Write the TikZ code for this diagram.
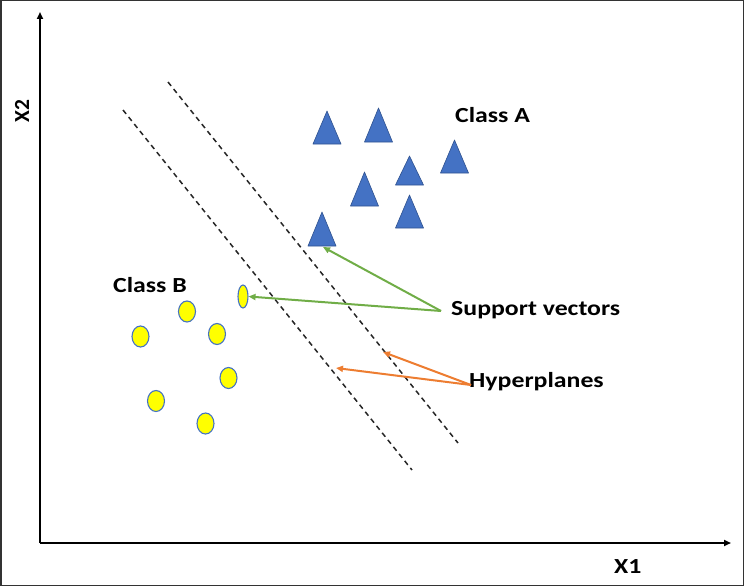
\documentclass[tikz,border=0pt]{standalone}
\usepackage{fontspec}
\setmainfont{Carlito}
\usetikzlibrary{arrows.meta,shapes.geometric}
\definecolor{triblue}{HTML}{4472C4}
\definecolor{triedge}{HTML}{2F528F}
\definecolor{ptyellow}{HTML}{FFFF00}
\definecolor{svgreen}{HTML}{70AD47}
\definecolor{hporange}{HTML}{ED7D31}
\definecolor{framegray}{HTML}{333333}
\newcommand{\wtxt}[1]{\scalebox{1.2}[1]{#1}}
\begin{document}
\begin{tikzpicture}[x=1pt,y=-1pt,
  lbl/.style={font=\fontsize{21.5}{25}\selectfont\bfseries, inner sep=0pt, anchor=base west},
  axis/.style={line width=2.2pt, -{Triangle[length=7pt,width=6pt]}},
  hyper/.style={line width=1.5pt, dash pattern=on 5pt off 4pt, black!85},
  tri/.style={fill=triblue, draw=triedge, line width=0.6pt, line join=round},
  pt/.style={ellipse, fill=ptyellow, draw=triblue, line width=1.1pt, inner sep=0pt, minimum width=17pt, minimum height=21pt},
  svarrow/.style={svgreen, line width=2pt, -{Triangle[length=7pt,width=6pt]}},
  hparrow/.style={hporange, line width=2pt, -{Triangle[length=7pt,width=6pt]}}]
\useasboundingbox (0,0) rectangle (744,586);
\draw[framegray, line width=1.5pt] (0.75,0.75) rectangle (743.25,585.25);
% axes
\coordinate (O) at (40,543);
\coordinate (ytip) at (40,12);
\coordinate (xtip) at (731,543);
\draw[axis] (O) -- (ytip);
\draw[axis] (O) -- (xtip);
\node[lbl, rotate=90] (x2) at (29,123) {X2};
\node[lbl] (x1) at (614,573) {\wtxt{X1}};
% hyperplanes
\coordinate (h1a) at (123,110);
\coordinate (h1b) at (412,470);
\coordinate (h2a) at (168,82);
\coordinate (h2b) at (458,443);
\draw[hyper] (h1a) -- (h1b);
\draw[hyper] (h2a) -- (h2b);
% triangles (class A)
\foreach \cx/\ty/\by in {327/111/144, 378.5/108/142, 454.5/140/173, 409.5/156/185, 364.5/172/206, 409.5/195/228, 322/212/246}{
  \draw[tri] (\cx-14,\by) -- (\cx,\ty) -- (\cx+14,\by) -- cycle;
}
\coordinate (svA) at (323,247);
% ellipses (class B)
\node[pt, minimum width=10pt, minimum height=23pt] (svB) at (243,296.5) {};
\node[pt] (b2) at (187,311.5) {};
\node[pt] (b3) at (140.5,336.5) {};
\node[pt] (b4) at (217,334) {};
\node[pt] (b5) at (228.5,378) {};
\node[pt] (b6) at (156,401) {};
\node[pt] (b7) at (205.5,423.5) {};
% labels
\node[lbl] (classA) at (455,122) {\wtxt{Class A}};
\node[lbl] (classB) at (113,292) {\wtxt{Class B}};
\node[lbl] (sv) at (451,315) {\wtxt{Support vectors}};
\node[lbl] (hp) at (469,387) {\wtxt{Hyperplanes}};
% arrows
\coordinate (svs) at (441,311);
\coordinate (hps) at (471,385);
\coordinate (hp1) at (383,352);
\coordinate (hp2) at (336,368);
\draw[svarrow] (svs) -- (svA);
\draw[svarrow] (svs) -- (svB.east);
\draw[hparrow] (hps) -- (hp1);
\draw[hparrow] (hps) -- (hp2);
\end{tikzpicture}
\end{document}
